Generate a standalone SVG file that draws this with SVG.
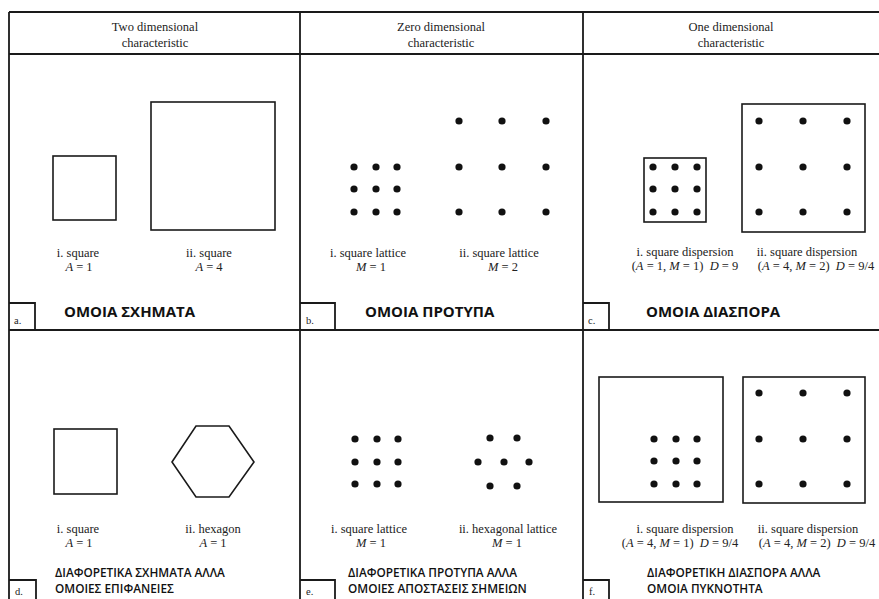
<svg xmlns="http://www.w3.org/2000/svg" width="879" height="599" viewBox="0 0 879 599">
<style>
.ln{stroke:#1a1a1a;stroke-width:1.8;fill:none}
.sh{stroke:#1a1a1a;stroke-width:1.6;fill:none}
.dt{fill:#111}
.hd{font-family:"Liberation Serif",serif;font-size:12.5px;fill:#222;text-anchor:middle}
.lb{font-family:"Liberation Serif",serif;font-size:12.5px;fill:#222;text-anchor:middle}
.tg{font-family:"Liberation Serif",serif;font-size:10.5px;fill:#222}
.gk{font-family:"Open Sans",sans-serif;font-size:15px;font-weight:bold;fill:#111}
.gs{font-family:"Open Sans",sans-serif;font-size:11.8px;font-weight:600;fill:#111}
.i{font-style:italic}
</style>
<rect width="879" height="599" fill="#fff"/>
<g id="frame">
<path class="ln" d="M9,12 H879 M9,54 H879 M9,330 H879 M9,12 V599 M300,12 V599 M583,12 V599"/>
<text class="hd" x="155" y="31">Two dimensional</text>
<text class="hd" x="155" y="47">characteristic</text>
<text class="hd" x="441" y="31">Zero dimensional</text>
<text class="hd" x="441" y="47">characteristic</text>
<text class="hd" x="731" y="31">One dimensional</text>
<text class="hd" x="731" y="47">characteristic</text>
</g>
<g id="panel-a">
<rect class="sh" x="53" y="156" width="63" height="64"/>
<rect class="sh" x="151" y="102" width="124" height="128"/>
<text class="lb" x="78" y="257">i. square</text>
<text class="lb" x="79" y="271"><tspan class="i">A</tspan> = 1</text>
<text class="lb" x="209" y="257">ii. square</text>
<text class="lb" x="209" y="271"><tspan class="i">A</tspan> = 4</text>
<path class="ln" d="M9,303 H35 V330"/>
<text class="tg" x="14" y="324">a.</text>
<text class="gk" x="64" y="317">ΟΜΟΙΑ ΣΧΗΜΑΤΑ</text>
</g>
<g id="panel-b">
<g class="dt">
<circle cx="354" cy="167" r="3.6"/><circle cx="376" cy="167" r="3.6"/><circle cx="397" cy="167" r="3.6"/>
<circle cx="354" cy="189" r="3.6"/><circle cx="376" cy="189" r="3.6"/><circle cx="397" cy="189" r="3.6"/>
<circle cx="354" cy="212" r="3.6"/><circle cx="376" cy="212" r="3.6"/><circle cx="397" cy="212" r="3.6"/>
<circle cx="459" cy="121" r="3.6"/><circle cx="502" cy="121" r="3.6"/><circle cx="546" cy="121" r="3.6"/>
<circle cx="459" cy="167" r="3.6"/><circle cx="502" cy="167" r="3.6"/><circle cx="546" cy="167" r="3.6"/>
<circle cx="459" cy="212" r="3.6"/><circle cx="502" cy="212" r="3.6"/><circle cx="546" cy="212" r="3.6"/>
</g>
<text class="lb" x="368" y="257">i. square lattice</text>
<text class="lb" x="371" y="271"><tspan class="i">M</tspan> = 1</text>
<text class="lb" x="499" y="257">ii. square lattice</text>
<text class="lb" x="503" y="271"><tspan class="i">M</tspan> = 2</text>
<path class="ln" d="M300,303 H335 V330"/>
<text class="tg" x="306" y="324">b.</text>
<text class="gk" x="365" y="317">ΟΜΟΙΑ ΠΡΟΤΥΠΑ</text>
</g>
<g id="panel-c">
<rect class="sh" x="644" y="158" width="62" height="64"/>
<rect class="sh" x="742" y="104" width="123" height="128"/>
<g class="dt">
<circle cx="653" cy="167" r="3.6"/><circle cx="675" cy="167" r="3.6"/><circle cx="697" cy="167" r="3.6"/>
<circle cx="653" cy="189" r="3.6"/><circle cx="675" cy="189" r="3.6"/><circle cx="697" cy="189" r="3.6"/>
<circle cx="653" cy="212" r="3.6"/><circle cx="675" cy="212" r="3.6"/><circle cx="697" cy="212" r="3.6"/>
<circle cx="759" cy="121" r="3.6"/><circle cx="803" cy="121" r="3.6"/><circle cx="847" cy="121" r="3.6"/>
<circle cx="759" cy="167" r="3.6"/><circle cx="803" cy="167" r="3.6"/><circle cx="847" cy="167" r="3.6"/>
<circle cx="759" cy="212" r="3.6"/><circle cx="803" cy="212" r="3.6"/><circle cx="847" cy="212" r="3.6"/>
</g>
<text class="lb" x="685" y="256">i. square dispersion</text>
<text class="lb" x="685" y="270" xml:space="preserve">(<tspan class="i">A</tspan> = 1, <tspan class="i">M</tspan> = 1)  <tspan class="i">D</tspan> = 9</text>
<text class="lb" x="807" y="256">ii. square dispersion</text>
<text class="lb" x="816" y="270" xml:space="preserve">(<tspan class="i">A</tspan> = 4, <tspan class="i">M</tspan> = 2)  <tspan class="i">D</tspan> = 9/4</text>
<path class="ln" d="M583,303 H609 V330"/>
<text class="tg" x="588" y="324">c.</text>
<text class="gk" x="646" y="317">ΟΜΟΙΑ ΔΙΑΣΠΟΡΑ</text>
</g>
<g id="panel-d">
<rect class="sh" x="54" y="429" width="63" height="65"/>
<polygon class="sh" points="172,462 196,426 229,426 254,462 229,497 196,497"/>
<text class="lb" x="78" y="533">i. square</text>
<text class="lb" x="79" y="547"><tspan class="i">A</tspan> = 1</text>
<text class="lb" x="213" y="533">ii. hexagon</text>
<text class="lb" x="213" y="547"><tspan class="i">A</tspan> = 1</text>
<path class="ln" d="M9,580 H36 V599"/>
<text class="tg" x="15" y="595">d.</text>
<text class="gs" x="55" y="577">ΔΙΑΦΟΡΕΤΙΚΑ ΣΧΗΜΑΤΑ ΑΛΛΑ</text>
<text class="gs" x="55" y="593">ΟΜΟΙΕΣ ΕΠΙΦΑΝΕΙΕΣ</text>
</g>
<g id="panel-e">
<g class="dt">
<circle cx="355" cy="439" r="3.6"/><circle cx="377" cy="439" r="3.6"/><circle cx="398" cy="439" r="3.6"/>
<circle cx="355" cy="462" r="3.6"/><circle cx="377" cy="462" r="3.6"/><circle cx="398" cy="462" r="3.6"/>
<circle cx="355" cy="484" r="3.6"/><circle cx="377" cy="484" r="3.6"/><circle cx="398" cy="484" r="3.6"/>
<circle cx="490" cy="438" r="3.6"/><circle cx="517" cy="438" r="3.6"/>
<circle cx="478" cy="462" r="3.6"/><circle cx="504" cy="462" r="3.6"/><circle cx="529" cy="462" r="3.6"/>
<circle cx="490" cy="486" r="3.6"/><circle cx="517" cy="486" r="3.6"/>
</g>
<text class="lb" x="369" y="533">i. square lattice</text>
<text class="lb" x="371" y="547"><tspan class="i">M</tspan> = 1</text>
<text class="lb" x="508" y="533">ii. hexagonal lattice</text>
<text class="lb" x="507" y="547"><tspan class="i">M</tspan> = 1</text>
<path class="ln" d="M300,580 H335 V599"/>
<text class="tg" x="306" y="595">e.</text>
<text class="gs" x="348" y="577">ΔΙΑΦΟΡΕΤΙΚΑ ΠΡΟΤΥΠΑ ΑΛΛΑ</text>
<text class="gs" x="348" y="593">ΟΜΟΙΕΣ ΑΠΟΣΤΑΣΕΙΣ ΣΗΜΕΙΩΝ</text>
</g>
<g id="panel-f">
<rect class="sh" x="599" y="377" width="124" height="125"/>
<rect class="sh" x="743" y="377" width="122" height="126"/>
<g class="dt">
<circle cx="654" cy="439" r="3.6"/><circle cx="676" cy="439" r="3.6"/><circle cx="697" cy="439" r="3.6"/>
<circle cx="654" cy="461" r="3.6"/><circle cx="676" cy="461" r="3.6"/><circle cx="697" cy="461" r="3.6"/>
<circle cx="654" cy="484" r="3.6"/><circle cx="676" cy="484" r="3.6"/><circle cx="697" cy="484" r="3.6"/>
<circle cx="759" cy="393" r="3.6"/><circle cx="803" cy="393" r="3.6"/><circle cx="847" cy="393" r="3.6"/>
<circle cx="759" cy="439" r="3.6"/><circle cx="803" cy="439" r="3.6"/><circle cx="847" cy="439" r="3.6"/>
<circle cx="759" cy="484" r="3.6"/><circle cx="803" cy="484" r="3.6"/><circle cx="847" cy="484" r="3.6"/>
</g>
<text class="lb" x="685" y="533">i. square dispersion</text>
<text class="lb" x="680" y="547" xml:space="preserve">(<tspan class="i">A</tspan> = 4, <tspan class="i">M</tspan> = 1)  <tspan class="i">D</tspan> = 9/4</text>
<text class="lb" x="808" y="533">ii. square dispersion</text>
<text class="lb" x="817" y="547" xml:space="preserve">(<tspan class="i">A</tspan> = 4, <tspan class="i">M</tspan> = 2)  <tspan class="i">D</tspan> = 9/4</text>
<path class="ln" d="M583,580 H609 V599"/>
<text class="tg" x="589" y="595">f.</text>
<text class="gs" x="647" y="577">ΔΙΑΦΟΡΕΤΙΚΗ ΔΙΑΣΠΟΡΑ ΑΛΛΑ</text>
<text class="gs" x="647" y="593">ΟΜΟΙΑ ΠΥΚΝΟΤΗΤΑ</text>
</g>
<g id="connectors"/>
</svg>
